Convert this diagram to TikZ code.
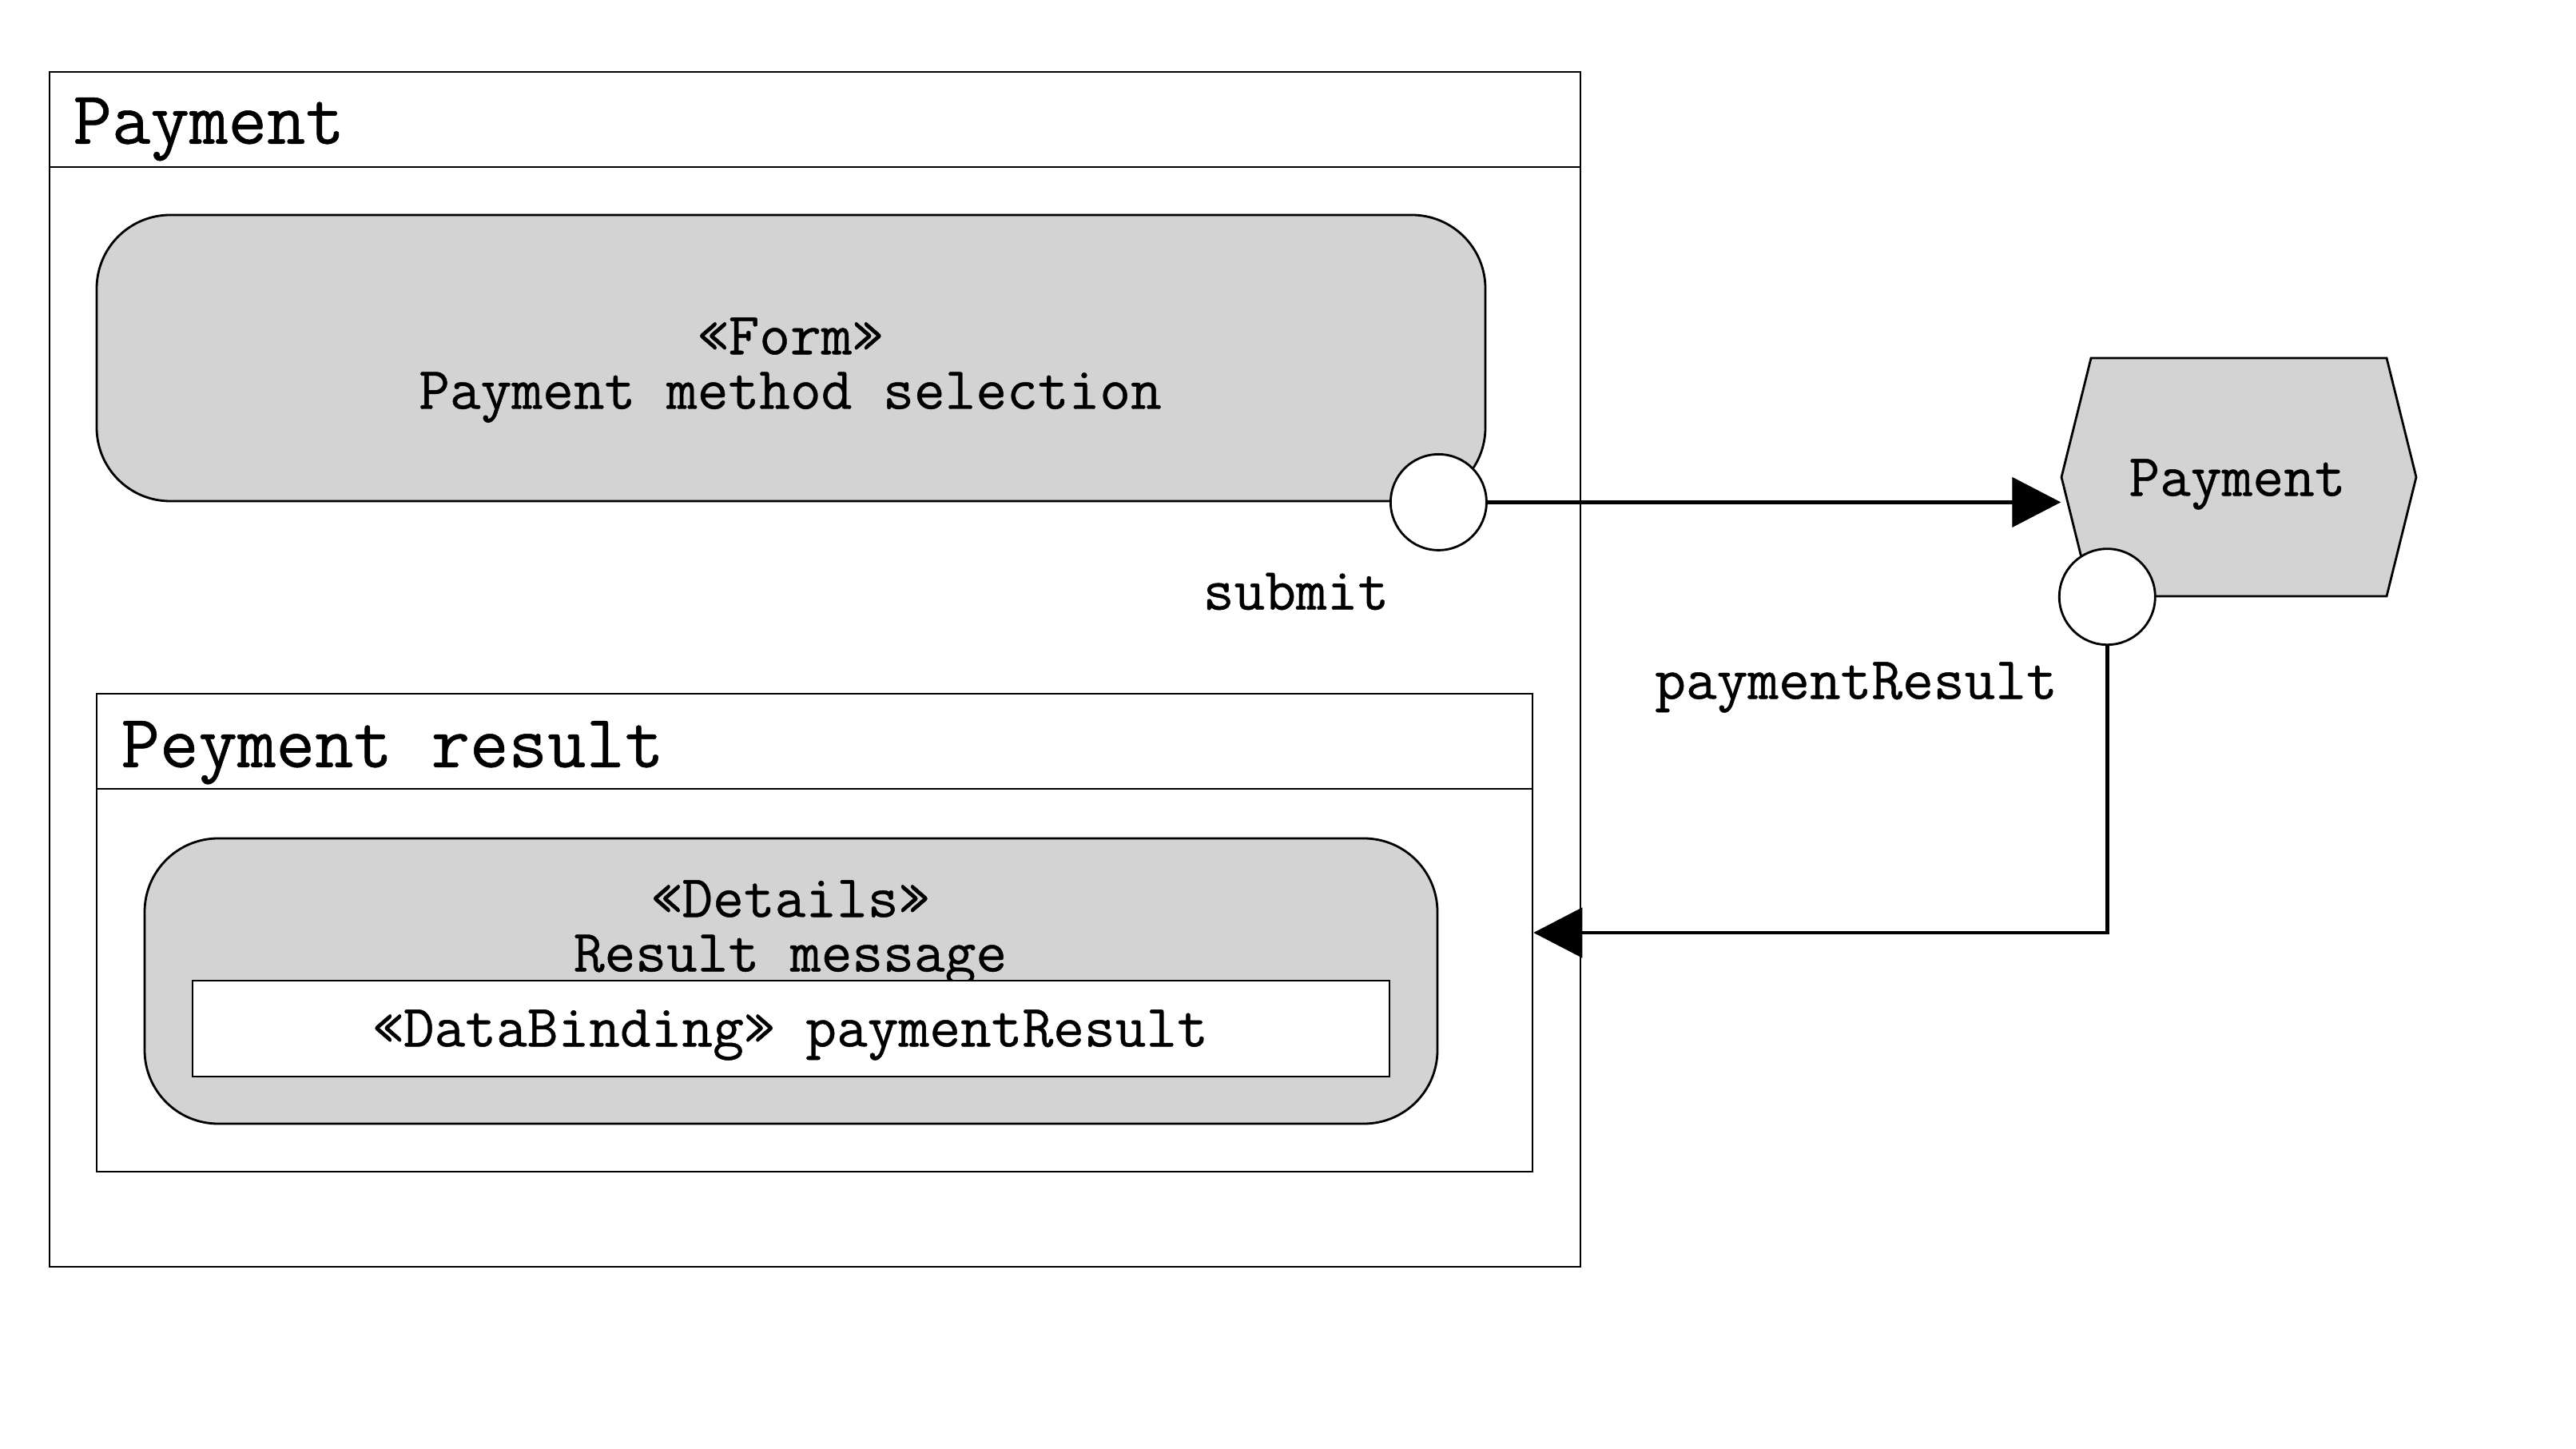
\documentclass[tikz,border=0pt]{standalone}
\usepackage{fontspec}
\newfontfamily\diagfont{Latin Modern Mono}[FakeBold=0.6]
\usepackage{tikz}
\usetikzlibrary{arrows.meta, calc}
\definecolor{boxG}{RGB}{211,211,211}

\begin{document}
\begin{tikzpicture}[
  font=\diagfont\fontsize{21.4}{19.4}\selectfont,
  frame/.style={draw, line width=0.7pt, inner sep=0pt},
  frametitle/.style={anchor=base west, inner sep=0pt, font=\diagfont\fontsize{26.8}{27}\selectfont},
  screen/.style={draw, fill=boxG, line width=0.8pt, rounded corners=0.92cm, align=center, inner sep=0pt},
  port/.style={circle, draw, fill=white, line width=0.8pt, minimum size=1.2cm, inner sep=0pt},
  flow/.style={line width=1.3pt, -{Triangle[length=0.61cm, width=0.62cm]}}]
\useasboundingbox (0,0) rectangle (32.24,18.12);
% outer frame
\node[frame, minimum width=19.16cm, minimum height=14.95cm] (payframe) at (10.20,9.745) {};
\draw[line width=0.7pt] ($(payframe.north west)+(0,-1.2)$) -- ($(payframe.north east)+(0,-1.2)$);
\node[frametitle] (paytitle) at ($(payframe.north west)+(0.30,-0.91)$) {Payment};
% form screen with submit port
\node[screen, minimum width=17.38cm, minimum height=3.58cm] (form) at (9.90,13.64) {};
\node[align=center, inner sep=0pt] (formlbl) at (9.89,13.49) {«Form»\\Payment method selection};
\node[port] (submit) at ($(form.south east)+(-0.6,0)$) {};
\node (submitlbl) at (16.22,10.72) {submit};
% result frame
\node[frame, minimum width=17.97cm, minimum height=5.98cm] (result) at (10.195,6.45) {};
\draw[line width=0.7pt] ($(result.north west)+(0,-1.2)$) -- ($(result.north east)+(0,-1.2)$);
\node[frametitle] (restitle) at ($(result.north west)+(0.31,-0.93)$) {Peyment result};
\node[screen, minimum width=16.18cm, minimum height=3.57cm] (details) at (9.90,5.845) {};
\node[align=center, inner sep=0pt] (detailslbl) at (9.89,6.45) {«Details»\\Result message};
\node[draw, fill=white, line width=0.8pt, minimum width=14.98cm, minimum height=1.2cm, inner sep=0pt] (binding) at (9.90,5.25) {};
\node (bindinglbl) at (9.89,5.17) {«DataBinding» paymentResult};
% process (hexagon) with result port
\coordinate (procC) at (28.02,12.15);
\draw[fill=boxG, line width=0.8pt] ($(procC)+(-1.85,1.49)$) -- ($(procC)+(1.85,1.49)$) -- ($(procC)+(2.22,0)$)
  -- ($(procC)+(1.85,-1.49)$) -- ($(procC)+(-1.85,-1.49)$) -- ($(procC)+(-2.22,0)$) -- cycle;
\node[minimum width=4.44cm, minimum height=2.98cm, inner sep=0pt] (proc) at (procC) {};
\node (proclbl) at (28.00,12.06) {Payment};
\node[port] (resport) at ($(proc.south west)+(0.58,0)$) {};
\node (resportlbl) at (23.23,9.52) {paymentResult};
% flows
\draw[flow] (submit.east) -- (submit.east -| proc.west);
\draw[flow] (resport.south) |- (result.east);
\end{tikzpicture}
\end{document}
